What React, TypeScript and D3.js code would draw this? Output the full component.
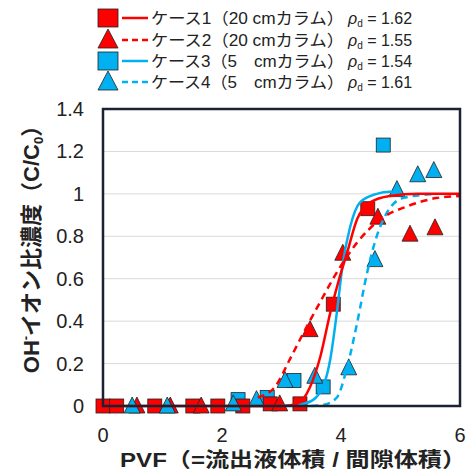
import React from "react";
import * as d3 from "d3";

// measured points [PVF, C/C0]
const case1Pts: [number, number][] = [
  [0, 0], [0.23, 0], [0.87, 0], [1.51, 0], [1.93, 0], [2.35, 0], [2.81, 0.01], [3.31, 0.01], [3.87, 0.48], [4.45, 0.93],
];
const case2Pts: [number, number][] = [
  [0.57, 0], [1.13, 0], [1.65, 0], [2.97, 0.01], [3.48, 0.36], [4.03, 0.72], [4.62, 0.89], [5.16, 0.81], [5.58, 0.84],
];
const case3Pts: [number, number][] = [
  [2.27, 0.03], [2.76, 0.04], [3.21, 0.12], [3.7, 0.09], [4.71, 1.23],
];
const case4Pts: [number, number][] = [
  [0.49, 0], [1.08, 0], [2.19, 0.01], [2.58, 0.03], [3.06, 0.12], [3.56, 0.14], [4.13, 0.18], [4.57, 0.69], [4.94, 1.02], [5.29, 1.09], [5.56, 1.11],
];

// fitted curves
const case1Fit: [number, number][] = [
  [0, 0], [3.0, 0], [3.26, 0.01], [3.48, 0.09], [3.65, 0.23], [3.82, 0.44], [3.98, 0.61], [4.1, 0.72], [4.27, 0.88], [4.49, 0.96], [4.82, 0.99], [5.3, 1.0], [6, 1.0],
];
const case2Fit: [number, number][] = [
  [2.6, 0.04], [2.89, 0.09], [3.14, 0.22], [3.36, 0.34], [3.65, 0.49], [3.93, 0.63], [4.27, 0.77], [4.66, 0.88], [5.1, 0.94], [5.6, 0.98], [6, 0.99],
];
const case3Fit: [number, number][] = [
  [3.0, 0], [3.36, 0.01], [3.58, 0.04], [3.7, 0.09], [3.82, 0.22], [3.93, 0.44], [4.03, 0.67], [4.15, 0.84], [4.32, 0.96], [4.6, 1.0], [4.82, 1.01], [5.0, 1.0],
];
const case4Fit: [number, number][] = [
  [3.5, 0], [3.7, 0.005], [3.93, 0.04], [4.1, 0.18], [4.27, 0.39], [4.44, 0.63], [4.6, 0.8], [4.77, 0.91], [5.04, 0.98], [5.6, 1.0],
];

const legendNames = ["ケース1（20 cmカラム）", "ケース2（20 cmカラム）", "ケース3（5\u2003cmカラム）", "ケース4（5\u2003cmカラム）"];
const legendRho = ["1.62", "1.55", "1.54", "1.61"];

const xTicks = [0, 2, 4, 6];
const yTicks = [0, 0.2, 0.4, 0.6, 0.8, 1, 1.2, 1.4];

const RED = "#FF0000";
const BLUE = "#00B0F0";
const FONT = "'Liberation Sans', Arial, 'Noto Sans CJK JP', sans-serif";

export default function App() {
  const x = d3.scaleLinear().domain([0, 6]).range([103, 460]);
  const y = d3.scaleLinear().domain([0, 1.4]).range([406, 109]);

  const line = d3.line<[number, number]>()
    .x(d => x(d[0]))
    .y(d => y(d[1]))
    .curve(d3.curveMonotoneX);

  const square = (p: [number, number], color: string, i: number) => (
    <rect key={i} x={x(p[0]) - 7} y={y(p[1]) - 7} width={14} height={14}
      fill={color} stroke="#222" strokeWidth={0.8} />
  );
  const tri = (p: [number, number], color: string, i: number) => {
    const cx = x(p[0]), cy = y(p[1]);
    return <path key={i} d={`M${cx},${cy - 9}L${cx + 8},${cy + 7}L${cx - 8},${cy + 7}Z`}
      fill={color} stroke="#222" strokeWidth={0.8} />;
  };

  const legendRows = [
    { mk: "sq", color: RED, dash: "" },
    { mk: "tri", color: RED, dash: "6,4" },
    { mk: "sq", color: BLUE, dash: "" },
    { mk: "tri", color: BLUE, dash: "6,4" },
  ];
  const rowY = [18, 40, 61, 82];

  return (
    <svg width={475} height={474} style={{ position: "absolute", left: 0, top: 0, background: "#fff" }}
      fontFamily={FONT}>
      {/* gridlines */}
      {yTicks.slice(1).map(t => (
        <line key={t} x1={x(0)} x2={x(6)} y1={y(t)} y2={y(t)} stroke="#d9d9d9" strokeWidth={1} />
      ))}

      {/* markers */}
      {case3Pts.map((p, i) => square(p, BLUE, i))}
      {case1Pts.map((p, i) => square(p, RED, i))}
      {case2Pts.map((p, i) => tri(p, RED, i))}
      {case4Pts.map((p, i) => tri(p, BLUE, i))}

      {/* fitted lines */}
      <path d={line(case3Fit) || ""} fill="none" stroke={BLUE} strokeWidth={2.5} />
      <path d={line(case4Fit) || ""} fill="none" stroke={BLUE} strokeWidth={2.5} strokeDasharray="7,5" />
      <path d={line(case2Fit) || ""} fill="none" stroke={RED} strokeWidth={2.5} strokeDasharray="7,5" />
      <path d={line(case1Fit) || ""} fill="none" stroke={RED} strokeWidth={2.5} />

      {/* frame */}
      <rect x={x(0)} y={y(1.4)} width={x(6) - x(0)} height={y(0) - y(1.4)} fill="none" stroke="#1b2333" strokeWidth={2.5} />

      {/* ticks */}
      {yTicks.map(t => (
        <text key={t} x={84} y={y(t) + 7} textAnchor="end" fontSize={20} fill="#222">{d3.format("~g")(t)}</text>
      ))}
      {xTicks.map(t => (
        <text key={t} x={x(t)} y={442} textAnchor="middle" fontSize={20} fill="#222">{t}</text>
      ))}

      {/* axis titles */}
      <text x={293} y={467} textAnchor="middle" fontSize={20} fontWeight="bold" fill="#222"
        textLength={346} lengthAdjust="spacingAndGlyphs">
        PVF（=流出液体積 / 間隙体積）
      </text>
      <text transform="translate(39,244) rotate(-90)" textAnchor="middle" fontSize={22} fontWeight="bold" fill="#222">
        OH<tspan fontSize={13} dy={-9}>-</tspan><tspan dy={9}>イオン比濃度（C/C</tspan><tspan fontSize={13} dy={4}>0</tspan><tspan dy={-4}>）</tspan>
      </text>

      {/* legend */}
      {legendRows.map((r, i) => {
        const cy = rowY[i];
        return (
          <g key={i}>
            {r.mk === "sq"
              ? <rect x={98} y={cy - 9} width={20} height={18} fill={r.color} stroke="#222" strokeWidth={0.8} />
              : <path d={`M108,${cy - 11}L118,${cy + 8}L98,${cy + 8}Z`} fill={r.color} stroke="#222" strokeWidth={0.8} />}
            <line x1={122} x2={148} y1={cy} y2={cy} stroke={r.color} strokeWidth={2.5} strokeDasharray={r.dash} />
            <text x={151} y={cy + 6} fontSize={16} fill="#222" textLength={193} lengthAdjust="spacingAndGlyphs">
              {legendNames[i]}
            </text>
            <text x={348} y={cy + 6} fontSize={16} fill="#222">
              <tspan fontStyle="italic">ρ</tspan><tspan fontSize={10} dy={3}>d</tspan><tspan dy={-3}> = {legendRho[i]}</tspan>
            </text>
          </g>
        );
      })}
    </svg>
  );
}
